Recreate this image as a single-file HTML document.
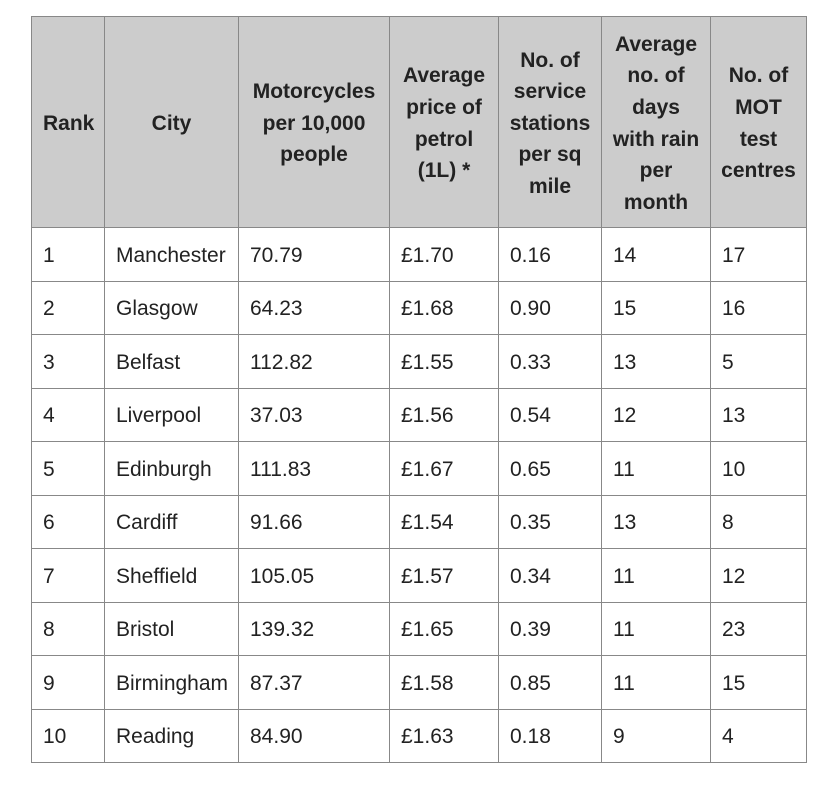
<!DOCTYPE html>
<html><head><meta charset="utf-8"><style>
html,body{margin:0;padding:0;background:#fff;width:836px;height:786px;overflow:hidden}
table{position:absolute;left:31px;top:16px;border-collapse:collapse;table-layout:fixed;font-family:"Liberation Sans",sans-serif;font-size:21px;color:#222}
td,th{border:1px solid #888;padding:3px 0 0 11px;text-align:left;vertical-align:middle;height:53.5px;box-sizing:border-box;white-space:nowrap}
th{background:#ccc;font-weight:bold;text-align:center;line-height:31.6px;height:211px;padding:3px 4px 0;white-space:normal}
th:first-child{text-align:left;padding-left:11px}
</style></head><body>
<table>
<colgroup><col style="width:73px"><col style="width:134px"><col style="width:151px"><col style="width:109px"><col style="width:103px"><col style="width:109px"><col style="width:96px"></colgroup>
<tr><th>Rank</th><th>City</th><th>Motorcycles per 10,000 people</th><th>Average price of petrol<br>(1L) *</th><th>No. of service stations per sq mile</th><th>Average<br>no. of<br>days<br>with rain<br>per<br>month</th><th>No. of MOT<br>test<br>centres</th></tr>
<tr><td>1</td><td>Manchester</td><td>70.79</td><td>£1.70</td><td>0.16</td><td>14</td><td>17</td></tr>
<tr><td>2</td><td>Glasgow</td><td>64.23</td><td>£1.68</td><td>0.90</td><td>15</td><td>16</td></tr>
<tr><td>3</td><td>Belfast</td><td>112.82</td><td>£1.55</td><td>0.33</td><td>13</td><td>5</td></tr>
<tr><td>4</td><td>Liverpool</td><td>37.03</td><td>£1.56</td><td>0.54</td><td>12</td><td>13</td></tr>
<tr><td>5</td><td>Edinburgh</td><td>111.83</td><td>£1.67</td><td>0.65</td><td>11</td><td>10</td></tr>
<tr><td>6</td><td>Cardiff</td><td>91.66</td><td>£1.54</td><td>0.35</td><td>13</td><td>8</td></tr>
<tr><td>7</td><td>Sheffield</td><td>105.05</td><td>£1.57</td><td>0.34</td><td>11</td><td>12</td></tr>
<tr><td>8</td><td>Bristol</td><td>139.32</td><td>£1.65</td><td>0.39</td><td>11</td><td>23</td></tr>
<tr><td>9</td><td>Birmingham</td><td>87.37</td><td>£1.58</td><td>0.85</td><td>11</td><td>15</td></tr>
<tr><td>10</td><td>Reading</td><td>84.90</td><td>£1.63</td><td>0.18</td><td>9</td><td>4</td></tr>
</table>
</body></html>
